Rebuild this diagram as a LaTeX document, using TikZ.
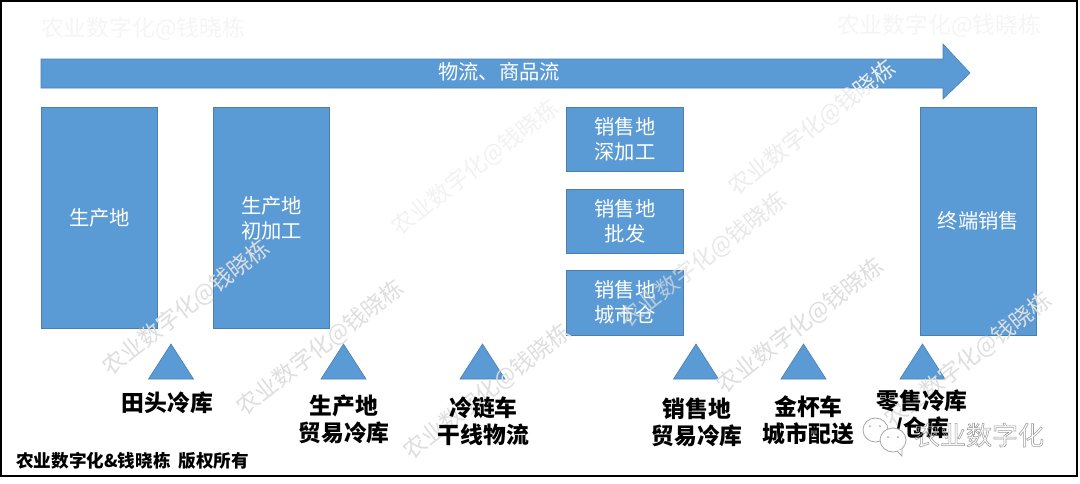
\documentclass[tikz,border=0pt]{standalone}
\usepackage{fontspec}
\setmainfont{Noto Sans CJK SC}
\usetikzlibrary{calc}
\definecolor{fillblue}{HTML}{5B9BD5}
\definecolor{edgeblue}{HTML}{4A7FB0}
\definecolor{markgray}{HTML}{DEDEDE}
\newcommand{\hollowtext}[1]{\special{pdf:code q 1 Tr 0.55 w 0.62 G}#1\special{pdf:code Q}}
\tikzset{
 blk/.style={draw=edgeblue,line width=0.8pt,fill=fillblue,text=white,font=\fontsize{20.3}{25}\selectfont,align=center,inner sep=0pt,minimum width=116.5pt},
 tri/.style={draw=edgeblue,line width=0.6pt,fill=fillblue},
 lab/.style={font=\fontsize{22.8}{27}\selectfont\bfseries,align=center,text=black,inner sep=0pt},
 wm/.style={font=\fontsize{22.8}{26}\selectfont,text=markgray,inner sep=0pt,rotate=38},
 wmflat/.style={font=\fontsize{22.8}{26}\selectfont,text=black!4,inner sep=0pt},
 bubble/.style={draw=gray!70,line width=0.8pt,fill=white},
}
\begin{document}
\begin{tikzpicture}[x=1pt,y=-1pt]
\useasboundingbox (0,0) rectangle (1080,483);
\fill[white] (0,0) rectangle (1080,483);
\draw[black,line width=2.2pt] (1,1) rectangle (1077,476);
% arrow
\draw[tri] (41,59) -- (943,59) -- (943,44) -- (970,73) -- (943,99) -- (943,88) -- (41,88) -- cycle;
\node[text=white,font=\fontsize{20.3}{25}\selectfont,inner sep=0pt] (flow) at (499,72) {物流、商品流};
% boxes
\node[blk,minimum height=221pt] (b1) at (99.5,217.5) {生产地};
\node[blk,minimum height=221pt] (b2) at (271.5,218) {生产地\\初加工};
\node[blk,minimum height=64pt] (m1) at (625,139) {销售地\\深加工};
\node[blk,minimum height=64pt] (m2) at (625,221) {销售地\\批发};
\node[blk,minimum height=65pt] (m3) at (625,302.5) {销售地\\城市仓};
\node[blk,minimum height=228pt] (b3) at (978.5,221) {终端销售};
% triangles
\foreach \c/\n in {171/t1,343.5/t2,482.5/t3,696/t4,803.5/t5,922.5/t6}{
  \draw[tri] (\c-22.5,379) -- (\c,344) -- (\c+22.5,379) -- cycle;
}
% watermarks
\node[wmflat] (w1) at (143,29) {农业数字化@钱晓栋};
\node[wmflat] (w2) at (939,26) {农业数字化@钱晓栋};
\node[wm,text=black!5] (w3) at (475,168) {农业数字化@钱晓栋};
\node[wm] (w4) at (186,308) {农业数字化@钱晓栋};
\node[wm] (w5) at (320,348) {农业数字化@钱晓栋};
\node[wm] (w6) at (487,392) {农业数字化@钱晓栋};
\node[wm,text=black!7] (w7) at (812,128) {农业数字化@钱晓栋};
\node[wm,opacity=.7] (w8) at (703,260) {农业数字化@钱晓栋};
\node[wm] (w9) at (800,326) {农业数字化@钱晓栋};
\node[wm] (w10) at (968,360) {农业数字化@钱晓栋};
% labels
\node[lab] (l1) at (167.5,403) {田头冷库};
\node[lab] (l2) at (344,419) {生产地\\贸易冷库};
\node[lab] (l3) at (483.5,421) {冷链车\\干线物流};
\node[lab] (l4) at (697,422) {销售地\\贸易冷库};
\node[lab] (l5) at (808.5,420) {金杯车\\城市配送};
\node[lab] (l6) at (922,415) {零售冷库\\/仓库};
\node[font=\fontsize{17.6}{20}\selectfont\bfseries,anchor=west,inner sep=0pt] (c) at (16,461) {农业数字化\&钱晓栋\ \ 版权所有};
% wechat mark
\draw[bubble] (875.5,430) ellipse (12.5pt and 12pt);
\fill[gray!70] (870,426) circle (1pt) (880,426) circle (1pt);
\draw[bubble] (893,440) ellipse (13pt and 12pt);
\draw[bubble] (897,451) -- (902,456) -- (902,449);
\fill[gray!70] (888,437) circle (1pt) (898,437) circle (1pt);
\node[font=\fontsize{26}{30}\selectfont,text=gray!60,inner sep=0pt] (wx) at (979,435) {\hollowtext{农业数字化}};
\end{tikzpicture}
\end{document}
